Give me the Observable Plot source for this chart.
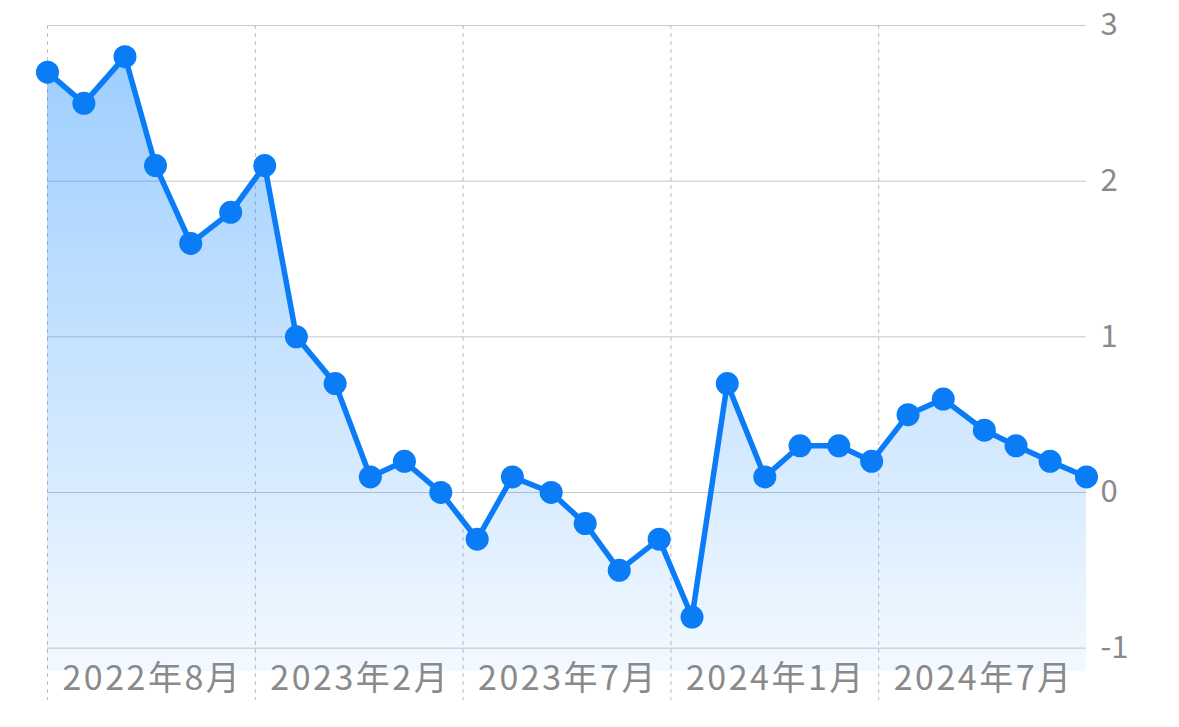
<!DOCTYPE html>
<html>
<head>
<meta charset="utf-8">
<script src="https://cdn.jsdelivr.net/npm/d3@7"></script>
<script src="https://cdn.jsdelivr.net/npm/@observablehq/plot@0.6"></script>
<style>
  html, body { margin: 0; padding: 0; background: #ffffff; }
  #chart svg { display: block; }
  #chart g[aria-label="x-axis tick label"] text { letter-spacing: 2.5px; }
</style>
</head>
<body>
<div id="chart"></div>
<script>
// Observation dates (one point per month)
const dates = ["2022-08-10","2022-09-10","2022-10-15","2022-11-10","2022-12-10","2023-01-13",
  "2023-02-11","2023-03-10","2023-04-12","2023-05-12","2023-06-10","2023-07-11",
  "2023-08-11","2023-09-10","2023-10-13","2023-11-11","2023-12-10","2024-01-13",
  "2024-02-10","2024-03-11","2024-04-12","2024-05-12","2024-06-14","2024-07-12",
  "2024-08-12","2024-09-11","2024-10-16","2024-11-12","2024-12-11","2025-01-11"];
// Series values
const values = [2.7, 2.5, 2.8, 2.1, 1.6, 1.8, 2.1, 1.0, 0.7, 0.1, 0.2, 0.0,
  -0.3, 0.1, 0.0, -0.2, -0.5, -0.3, -0.8, 0.7, 0.1, 0.3, 0.3, 0.2,
  0.5, 0.6, 0.4, 0.3, 0.2, 0.1];
// X ticks and labels
const xTickDates = ["2022-08-10","2023-02-03","2023-07-30","2024-01-23","2024-07-18"];
const xTickLabels = ["2022年8月","2023年2月","2023年7月","2024年1月","2024年7月"];
// Y ticks
const yTicks = [-1, 0, 1, 2, 3];
const yDomain = [-1.15, 3];

const data = dates.map((d, i) => ({date: new Date(d), v: values[i]}));
const xTicks = xTickDates.map(d => new Date(d));
const labelByTime = new Map(xTicks.map((d, i) => [+d, xTickLabels[i]]));

const BLUE = "#0A7CF6";
const GRAY = "#8a8a8c";

const gradientDefs = () => {
  const ns = "http://www.w3.org/2000/svg";
  const defs = document.createElementNS(ns, "defs");
  const lg = document.createElementNS(ns, "linearGradient");
  lg.setAttribute("id", "areaGrad");
  lg.setAttribute("x1", "0"); lg.setAttribute("y1", "0");
  lg.setAttribute("x2", "0"); lg.setAttribute("y2", "1");
  [["0%", 0.4], ["100%", 0.05]].forEach(([off, op]) => {
    const s = document.createElementNS(ns, "stop");
    s.setAttribute("offset", off);
    s.setAttribute("stop-color", "#0A84FF");
    s.setAttribute("stop-opacity", op);
    lg.appendChild(s);
  });
  defs.appendChild(lg);
  return defs;
};

const chart = Plot.plot({
  width: 1179,
  height: 727,
  marginLeft: 47,
  marginRight: 93,
  marginTop: 25,
  marginBottom: 56,
  style: {fontFamily: "'Noto Sans CJK JP', 'Noto Sans', sans-serif", background: "#ffffff"},
  x: {type: "utc", domain: [data[0].date, data[data.length - 1].date]},
  y: {domain: yDomain},
  marks: [
    gradientDefs,
    Plot.gridY({ticks: yTicks, stroke: "#c7c7cc", strokeOpacity: 1, strokeWidth: 1}),
    Plot.gridX({ticks: xTicks, stroke: "#bdbdc2", strokeOpacity: 1, strokeWidth: 1,
      strokeDasharray: "4,4", insetBottom: -29}),
    Plot.areaY(data, {x: "date", y1: yDomain[0], y2: "v", fill: "url(#areaGrad)"}),
    Plot.line(data, {x: "date", y: "v", stroke: BLUE, strokeWidth: 5.5,
      strokeLinejoin: "round", strokeLinecap: "round"}),
    Plot.dot(data, {x: "date", y: "v", r: 11.5, fill: BLUE, stroke: "none"}),
    Plot.axisY({ticks: yTicks, anchor: "right", tickSize: 0, tickPadding: 14,
      fontSize: 31, color: GRAY, label: null, tickFormat: d => String(d)}),
    Plot.axisX({ticks: xTicks, anchor: "bottom", tickSize: 0, tickPadding: 0,
      textAnchor: "start", lineAnchor: "middle", dx: 15, dy: 8,
      fontSize: 34, color: GRAY, label: null,
      tickFormat: d => labelByTime.get(+d)})
  ]
});
document.getElementById("chart").appendChild(chart);
</script>
</body>
</html>
